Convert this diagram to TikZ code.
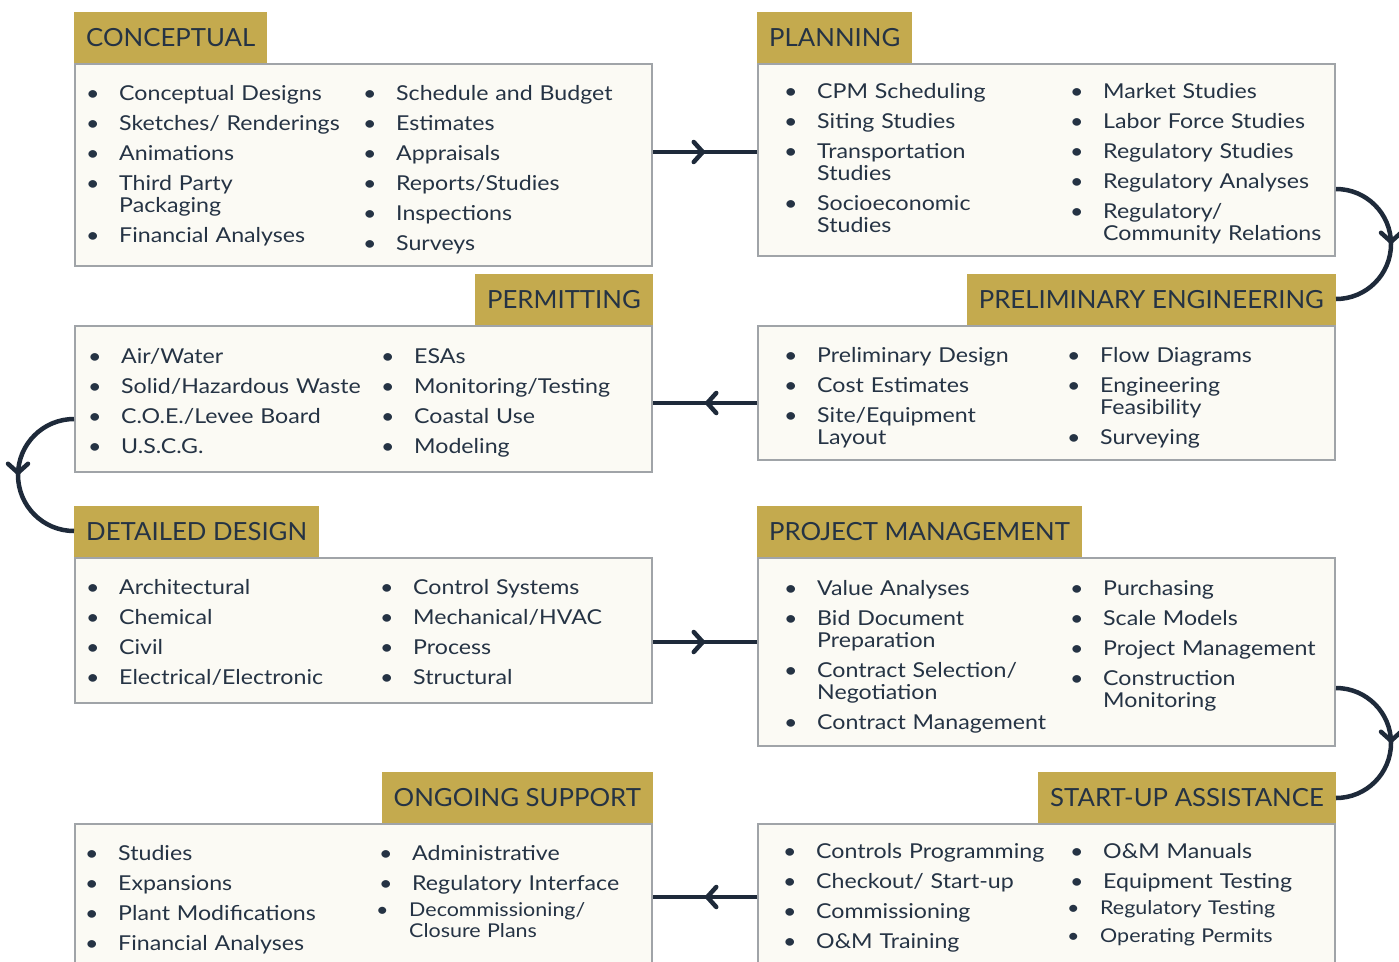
\documentclass[tikz,border=0pt]{standalone}
\usepackage{fontspec}
\setmainfont{Lato}[FakeStretch=1.13]
\newfontfamily\tabfont{Lato}[FakeStretch=1.03]
\usetikzlibrary{arrows.meta}
\usetikzlibrary{decorations.markings}
\definecolor{gold}{HTML}{C4AA4E}
\definecolor{paper}{HTML}{FBFAF4}
\definecolor{rim}{HTML}{A0A4A8}
\definecolor{ink}{HTML}{253344}
\definecolor{navy}{HTML}{1E2A3A}
\newcommand{\itm}[1]{\noindent\hangindent=30pt\hangafter=1\strut\makebox[30pt][l]{\kern-3pt\textbullet}#1\par}

\begin{document}
\begin{tikzpicture}[x=1pt,y=-1pt]
				    \tikzstyle{box}=[draw=rim,line width=2pt,fill=paper,minimum width=577pt,anchor=north west,inner sep=0pt]
				    \tikzstyle{tab}=[fill=gold,minimum height=51pt,inner xsep=12pt,inner ysep=0pt,text=ink,font=\tabfont\fontsize{25}{25}\selectfont]
				    \tikzstyle{col}=[anchor=north west,inner sep=0pt,text width=270pt,align=left,text=ink,font=\fontsize{20.5}{22}\selectfont,execute at begin node={\setlength{\parskip}{8pt}}]
				    \tikzstyle{colsmall}=[col,font=\fontsize{19}{21}\selectfont,execute at begin node={\setlength{\parskip}{7pt}}]
				    \tikzstyle{flow}=[draw=navy,line width=4.5pt,postaction={decorate},decoration={markings,mark=at position 0.5 with {\arrow{Straight Barb[length=9pt,width=20pt,round]}}}]
				    \clip (0,0) rectangle (1399,961);
				    % boxes
				    \node[box,minimum height=202pt] (concbox) at (74,63) {};
				    \node[box,minimum height=192pt] (planbox) at (757,63) {};
				    \node[box,minimum height=146pt] (permbox) at (74,325) {};
				    \node[box,minimum height=134pt] (prelimbox) at (757,325) {};
				    \node[box,minimum height=145pt] (detailbox) at (74,557) {};
				    \node[box,minimum height=188pt] (pmbox) at (757,557) {};
				    \node[box,minimum height=160pt] (ongoingbox) at (74,823) {};
				    \node[box,minimum height=160pt] (startbox) at (757,823) {};
				    % headers
				    \node[tab,anchor=south west] (conchead) at (concbox.north west) {CONCEPTUAL};
				    \node[tab,anchor=south west] (planhead) at (planbox.north west) {PLANNING};
				    \node[tab,anchor=south east] (permhead) at (permbox.north east) {PERMITTING};
				    \node[tab,anchor=south east] (prelimhead) at (prelimbox.north east) {PRELIMINARY ENGINEERING};
				    \node[tab,anchor=south west] (detailhead) at (detailbox.north west) {DETAILED DESIGN};
				    \node[tab,anchor=south west] (pmhead) at (pmbox.north west) {PROJECT MANAGEMENT};
				    \node[tab,anchor=south east] (ongoinghead) at (ongoingbox.north east) {ONGOING SUPPORT};
				    \node[tab,anchor=south east] (starthead) at (startbox.north east) {START-UP ASSISTANCE};
				    % lists
				    \node[col] (conc1) at (89,84.6) {\itm{Conceptual Designs}\itm{Sketches/ Renderings}\itm{Animations}\itm{Third Party\newline Packaging}\itm{Financial Analyses}};
				    \node[col] (conc2) at (366,84.6) {\itm{Schedule and Budget}\itm{Estimates}\itm{Appraisals}\itm{Reports/Studies}\itm{Inspections}\itm{Surveys}};
				    \node[col] (plan1) at (787,82.6) {\itm{CPM Scheduling}\itm{Siting Studies}\itm{Transportation\newline Studies}\itm{Socioeconomic\newline Studies}};
				    \node[col] (plan2) at (1073,82.6) {\itm{Market Studies}\itm{Labor Force Studies}\itm{Regulatory Studies}\itm{Regulatory Analyses}\itm{Regulatory/\newline Community Relations}};
				    \node[col] (perm1) at (91,347.6) {\itm{Air/Water}\itm{Solid/Hazardous Waste}\itm{C.O.E./Levee Board}\itm{U.S.C.G.}};
				    \node[col] (perm2) at (384,347.6) {\itm{ESAs}\itm{Monitoring/Testing}\itm{Coastal Use}\itm{Modeling}};
				    \node[col] (prelim1) at (787,346.6) {\itm{Preliminary Design}\itm{Cost Estimates}\itm{Site/Equipment\newline Layout}};
				    \node[col] (prelim2) at (1070,346.6) {\itm{Flow Diagrams}\itm{Engineering\newline Feasibility}\itm{Surveying}};
				    \node[col] (detail1) at (89,578.6) {\itm{Architectural}\itm{Chemical}\itm{Civil}\itm{Electrical/Electronic}};
				    \node[col] (detail2) at (383,578.6) {\itm{Control Systems}\itm{Mechanical/HVAC}\itm{Process}\itm{Structural}};
				    \node[col] (pm1) at (787,579.6) {\itm{Value Analyses}\itm{Bid Document\newline Preparation}\itm{Contract Selection/\newline Negotiation}\itm{Contract Management}};
				    \node[col] (pm2) at (1073,579.6) {\itm{Purchasing}\itm{Scale Models}\itm{Project Management}\itm{Construction\newline Monitoring}};
				    \node[col] (start1) at (786,842.6) {\itm{Controls Programming}\itm{Checkout/ Start-up}\itm{Commissioning}\itm{O\&M Training}};
				    \node[col] (start2) at (1073,842.6) {\itm{O\&M Manuals}\itm{Equipment Testing}};
				    \node[colsmall] (start3) at (1070,899.6) {\itm{Regulatory Testing}\itm{Operating Permits}};
				    \node[col] (ongoing1) at (88,844.6) {\itm{Studies}\itm{Expansions}\itm{Plant Modifications}\itm{Financial Analyses}};
				    \node[col] (ongoing2) at (382,844.6) {\itm{Administrative}\itm{Regulatory Interface}};
				    \node[colsmall] (ongoing3) at (379,901.3) {\itm{Decommissioning/\newline Closure Plans}};
				    % connectors
				    \draw[flow] (concbox.east |- 0,152) -- (planbox.west |- 0,152);
				    \draw[flow] (planbox.east |- 0,189) arc[start angle=90,end angle=-90,radius=55pt];
				    \draw[flow] (prelimbox.west |- 0,403) -- (permbox.east |- 0,403);
				    \draw[flow] (permbox.west |- 0,419) arc[start angle=90,end angle=270,radius=56pt];
				    \draw[flow] (detailbox.east |- 0,642) -- (pmbox.west |- 0,642);
				    \draw[flow] (pmbox.east |- 0,688) arc[start angle=90,end angle=-90,radius=55pt];
				    \draw[flow] (startbox.west |- 0,897) -- (ongoingbox.east |- 0,897);
				\end{tikzpicture}
\end{document}
